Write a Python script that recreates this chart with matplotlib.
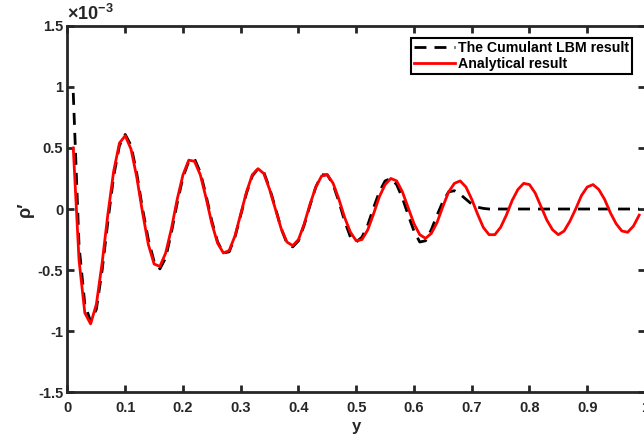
import matplotlib
matplotlib.use("Agg")
import matplotlib.pyplot as plt

# density fluctuation along y, in units of 1e-3
y = [0.01, 0.02, 0.03, 0.04, 0.05, 0.06, 0.07, 0.08, 0.09, 0.10,
     0.11, 0.12, 0.13, 0.14, 0.15, 0.16, 0.17, 0.18, 0.19, 0.20,
     0.21, 0.22, 0.23, 0.24, 0.25, 0.26, 0.27, 0.28, 0.29, 0.30,
     0.31, 0.32, 0.33, 0.34, 0.35, 0.36, 0.37, 0.38, 0.39, 0.40,
     0.41, 0.42, 0.43, 0.44, 0.45, 0.46, 0.47, 0.48, 0.49, 0.50,
     0.51, 0.52, 0.53, 0.54, 0.55, 0.56, 0.57, 0.58, 0.59, 0.60,
     0.61, 0.62, 0.63, 0.64, 0.65, 0.66, 0.67, 0.68, 0.69, 0.70,
     0.71, 0.72, 0.73, 0.74, 0.75, 0.76, 0.77, 0.78, 0.79, 0.80,
     0.81, 0.82, 0.83, 0.84, 0.85, 0.86, 0.87, 0.88, 0.89, 0.90,
     0.91, 0.92, 0.93, 0.94, 0.95, 0.96, 0.97, 0.98, 0.99]

rho_lbm = [0.95, -0.30, -0.78, -0.92, -0.82, -0.50, -0.10, 0.27, 0.52, 0.61,
           0.52, 0.29, 0.00, -0.25, -0.43, -0.49, -0.40, -0.19, 0.05, 0.26,
           0.39, 0.41, 0.30, 0.11, -0.10, -0.27, -0.36, -0.35, -0.23, -0.05,
           0.13, 0.27, 0.33, 0.30, 0.17, 0.01, -0.16, -0.28, -0.31, -0.26,
           -0.13, 0.03, 0.18, 0.28, 0.28, 0.20, 0.06, -0.10, -0.23, -0.27,
           -0.23, -0.13, 0.01, 0.14, 0.23, 0.25, 0.20, 0.09, -0.05, -0.18,
           -0.27, -0.26, -0.17, -0.05, 0.06, 0.14, 0.15, 0.12, 0.08, 0.04,
           0.015, 0.005, 0.0, 0.0, 0.0, 0.0, 0.0, 0.0, 0.0, 0.0,
           0.0, 0.0, 0.0, 0.0, 0.0, 0.0, 0.0, 0.0, 0.0, 0.0,
           0.0, 0.0, 0.0, 0.0, 0.0, 0.0, 0.0, 0.0, 0.0]

rho_exact = [0.50, -0.42, -0.85, -0.94, -0.78, -0.44, -0.04, 0.31, 0.54, 0.60,
             0.49, 0.26, -0.03, -0.29, -0.45, -0.47, -0.36, -0.16, 0.08, 0.28,
             0.40, 0.39, 0.28, 0.09, -0.12, -0.28, -0.36, -0.34, -0.22, -0.04,
             0.14, 0.28, 0.33, 0.29, 0.16, 0.00, -0.16, -0.27, -0.30, -0.25,
             -0.12, 0.04, 0.18, 0.27, 0.28, 0.21, 0.08, -0.07, -0.19, -0.26,
             -0.25, -0.17, -0.04, 0.10, 0.20, 0.25, 0.23, 0.14, 0.01, -0.12,
             -0.21, -0.24, -0.20, -0.11, 0.02, 0.14, 0.21, 0.23, 0.18, 0.08,
             -0.04, -0.15, -0.21, -0.21, -0.15, -0.05, 0.07, 0.16, 0.21, 0.20,
             0.13, 0.02, -0.09, -0.17, -0.21, -0.18, -0.10, 0.00, 0.11, 0.18,
             0.20, 0.16, 0.08, -0.03, -0.12, -0.18, -0.19, -0.14, -0.05]

xticks = [0, 0.1, 0.2, 0.3, 0.4, 0.5, 0.6, 0.7, 0.8, 0.9, 1]
xtick_labels = ["0", "0.1", "0.2", "0.3", "0.4", "0.5", "0.6", "0.7", "0.8", "0.9", "1"]
yticks = [-1.5, -1, -0.5, 0, 0.5, 1, 1.5]
ytick_labels = ["-1.5", "-1", "-0.5", "0", "0.5", "1", "1.5"]

plt.rcParams["font.family"] = ["Liberation Sans", "DejaVu Sans"]
plt.rcParams["font.weight"] = "bold"
plt.rcParams["mathtext.fontset"] = "custom"
plt.rcParams["mathtext.rm"] = "Liberation Sans:bold"
plt.rcParams["mathtext.it"] = "Liberation Sans:bold"
plt.rcParams["mathtext.bf"] = "Liberation Sans:bold"

axis_color = "#262626"

fig = plt.figure(figsize=(6.44, 4.44), dpi=100)
ax = fig.add_axes([0.1048, 0.1164, 0.8967, 0.8257])

ax.plot(y, rho_lbm, color="black", lw=2.0, linestyle=(0, (4.3, 2.9)),
        label="The Cumulant LBM result")
ax.plot(y, rho_exact, color="red", lw=2.0, label="Analytical result")

ax.set_xlim(0, 1)
ax.set_ylim(-1.5, 1.5)
ax.set_xticks(xticks)
ax.set_xticklabels(xtick_labels)
ax.set_yticks(yticks)
ax.set_yticklabels(ytick_labels)

for sp in ax.spines.values():
    sp.set_linewidth(2.0)
    sp.set_color(axis_color)
ax.tick_params(direction="in", length=5, width=2.0, color=axis_color,
               labelsize=10.5, labelcolor=axis_color, top=True, right=True)
ax.tick_params(axis="x", pad=6)
ax.tick_params(axis="y", pad=3)
for lbl in ax.get_xticklabels() + ax.get_yticklabels():
    lbl.set_fontweight("bold")

# exponent marker above the y axis
ax.text(0.0, 1.004, "×10$^{-3}$", transform=ax.transAxes, fontsize=13,
        fontweight="bold", color=axis_color, ha="left", va="bottom")

ax.set_xlabel("y", fontsize=12, fontweight="bold", color=axis_color, labelpad=3)
ax.set_ylabel("ρ′", fontsize=13, fontweight="bold", color=axis_color, labelpad=3)

leg = ax.legend(loc="upper right", bbox_to_anchor=(0.9775, 0.967),
                prop={"size": 10.2, "weight": "bold"}, frameon=True,
                fancybox=False, edgecolor="black", borderpad=0.22,
                handlelength=2.9, handletextpad=0.2, labelspacing=0.12,
                borderaxespad=0.0)
leg.get_frame().set_linewidth(1.5)
leg.get_frame().set_alpha(1)

fig.savefig("out.png", dpi=100)
